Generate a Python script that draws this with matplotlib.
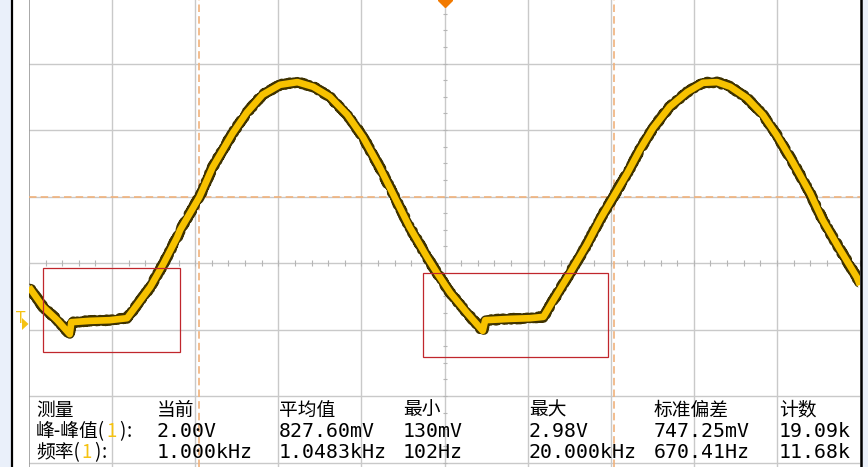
import matplotlib
matplotlib.use("Agg")
import matplotlib.pyplot as plt
from matplotlib.patches import Rectangle, Polygon

# ---------------- data (graticule divisions: x from centre, y from centre line) -------------
trace_x = [-5.00, -4.83, -4.66, -4.51, -4.49, -4.27, -4.03, -3.82, -3.70, -3.54, -3.39,
           -3.22, -3.18, -2.95, -2.79, -2.55, -2.38, -2.19, -1.98, -1.77, -1.58, -1.38,
           -1.17, -0.98, -0.78, -0.60, -0.42, -0.21, -0.09, 0.07, 0.27, 0.46, 0.49, 0.79,
           1.03, 1.19, 1.31, 1.51, 1.71, 1.87, 2.03, 2.20, 2.35, 2.51, 2.71, 2.92, 3.11,
           3.28, 3.44, 3.64, 3.83, 4.00, 4.19, 4.40, 4.55, 4.76, 4.96, 5.00]
trace_y = [-0.36, -0.66, -0.86, -1.07, -0.89, -0.87, -0.86, -0.83, -0.63, -0.36, -0.03,
           0.38, 0.50, 0.99, 1.44, 1.95, 2.26, 2.53, 2.68, 2.72, 2.65, 2.50,
           2.23, 1.89, 1.44, 0.99, 0.54, 0.09, -0.15, -0.45, -0.75, -1.02, -0.86, -0.84,
           -0.83, -0.81, -0.56, -0.15, 0.27, 0.65, 0.99, 1.35, 1.70, 2.03, 2.35, 2.57, 2.71,
           2.72, 2.65, 2.48, 2.23, 1.92, 1.52, 1.05, 0.65, 0.20, -0.21, -0.33]

cursor_x = [-2.954, 2.04]
cursor_y = [0.992]

# measurement boxes (x0, y0, x1, y1) in divisions
boxes = [(-4.83, -1.34, -3.18, -0.075), (-0.259, -1.421, 1.968, -0.143)]

col_headers = ["测量", "当前", "平均值", "最小", "最大", "标准偏差", "计数"]
row_labels = ["峰-峰值", "频率"]
pkpk_values = ["2.00V", "827.60mV", "130mV", "2.98V", "747.25mV", "19.09k"]
freq_values = ["1.000kHz", "1.0483kHz", "102Hz", "20.000kHz", "670.41Hz", "11.68k"]

# ---------------- figure ----------------
W, H = 868, 467
fig = plt.figure(figsize=(W / 100, H / 100), dpi=100, facecolor="white")

ov = fig.add_axes([0, 0, 1, 1], zorder=3)
ov.set_xlim(0, W)
ov.set_ylim(H, 0)
ov.axis("off")
ov.patch.set_alpha(0)

bg = fig.add_axes([0, 0, 1, 1], zorder=0)
bg.set_xlim(0, W)
bg.set_ylim(H, 0)
bg.axis("off")
bg.add_patch(Rectangle((0, 0), 11, H, color="#eaf0fa", lw=0))
bg.add_patch(Rectangle((862, 0), 6, H, color="#eaf0fa", lw=0))

# main graticule axes
left_px, right_px = 29, 860
ax = fig.add_axes([left_px / W, 0, (right_px - left_px) / W, 1], zorder=1)
ax.patch.set_alpha(0)
px_div_y = 66.5
yc = 263
ax.set_xlim(-5, 5)
ax.set_ylim((yc - H) / px_div_y, yc / px_div_y)
for s in ax.spines.values():
    s.set_visible(False)
ax.set_xticks([])
ax.set_yticks([])

grid_c = "#c9c9c9"
for gx in range(-4, 5):
    ax.axvline(gx, color=grid_c, lw=1.0, zorder=1)
for gy in range(-3, 4):
    ax.axhline(gy, color=grid_c, lw=1.0, zorder=1)
ax.axvline(-5, color="#9a9a9a", lw=1.2, zorder=1)

# minor ticks on centre lines
mx = [i * 0.2 for i in range(-25, 26)]
ax.plot(mx, [0] * len(mx), ls="none", marker="|", ms=4, mew=0.8, color="#b5b5b5", zorder=1)
my = [i * 0.25 for i in range(-13, 17)]
ax.plot([0] * len(my), my, ls="none", marker="_", ms=3.5, mew=0.8, color="#b5b5b5", zorder=1)

# cursors
cur_c = "#f0b27c"
for cx in cursor_x:
    ax.axvline(cx, color=cur_c, lw=1.2, dashes=(4.5, 2.5), zorder=2)
for cy in cursor_y:
    ax.axhline(cy, color=cur_c, lw=1.2, dashes=(4.5, 2.5), zorder=2)

# trace
edge, = ax.plot(trace_x, trace_y, color="#3e3200", lw=6.8, solid_joinstyle="round",
                solid_capstyle="butt", zorder=4)
edge.set_sketch_params(scale=1.2, length=1.5, randomness=3.0)
ax.plot(trace_x, trace_y, color="#f7c200", lw=4.8, solid_joinstyle="round",
        solid_capstyle="butt", zorder=5)

# red measurement boxes
for (x0, y0, x1, y1) in boxes:
    ax.add_patch(Rectangle((x0, y0), x1 - x0, y1 - y0, fill=False, ec="#c0262c", lw=0.9, zorder=6))

# frame lines
ov.plot([11.5, 11.5], [0, H], color="black", lw=1.6)
ov.plot([861, 861], [0, H], color="black", lw=1.8)

# trigger level marker "T" and position marker
yel = "#f5c211"
ov.text(15.5, 323, "T", color=yel, fontsize=11, family="DejaVu Sans", va="baseline", ha="left")
ov.add_patch(Polygon([[22, 318], [22, 330], [28.5, 324]], closed=True, color=yel, lw=0))
ov.plot([444.5], [0], marker="D", ms=7, color="#f27a00", clip_on=True)

# measurement table
cols_x = [36, 157, 279, 403, 529, 654, 779]
base_y = [415.5, 437, 458]
cjk = ["Noto Sans CJK SC", "DejaVu Sans"]
mono = ["DejaVu Sans Mono", "Noto Sans CJK SC"]
for cx, hdr in zip(cols_x, col_headers):
    ov.text(cx, base_y[0], hdr, family=cjk, fontsize=13.5, va="baseline", ha="left", color="black")


def row_label(y, label):
    t = ov.text(36, y, label + "(", family=cjk, fontsize=13.5, va="baseline", ha="left",
                color="black")
    for piece, col, gap in (("1", yel, 1.0), (")", "black", 1.5), (":", "black", 1.0)):
        t = ov.annotate(piece, xy=(1, 0), xycoords=t, xytext=(gap, 0), textcoords="offset points",
                        family=cjk, fontsize=13.5, va="bottom", ha="left", color=col)


row_label(base_y[1], row_labels[0])
row_label(base_y[2], row_labels[1])

for cx, v in zip(cols_x[1:], pkpk_values):
    ov.text(cx, base_y[1], v, family=mono, fontsize=14.3, va="baseline", ha="left", color="black")
for cx, v in zip(cols_x[1:], freq_values):
    ov.text(cx, base_y[2], v, family=mono, fontsize=14.3, va="baseline", ha="left", color="black")

fig.savefig("out.png", dpi=100, facecolor="white")
